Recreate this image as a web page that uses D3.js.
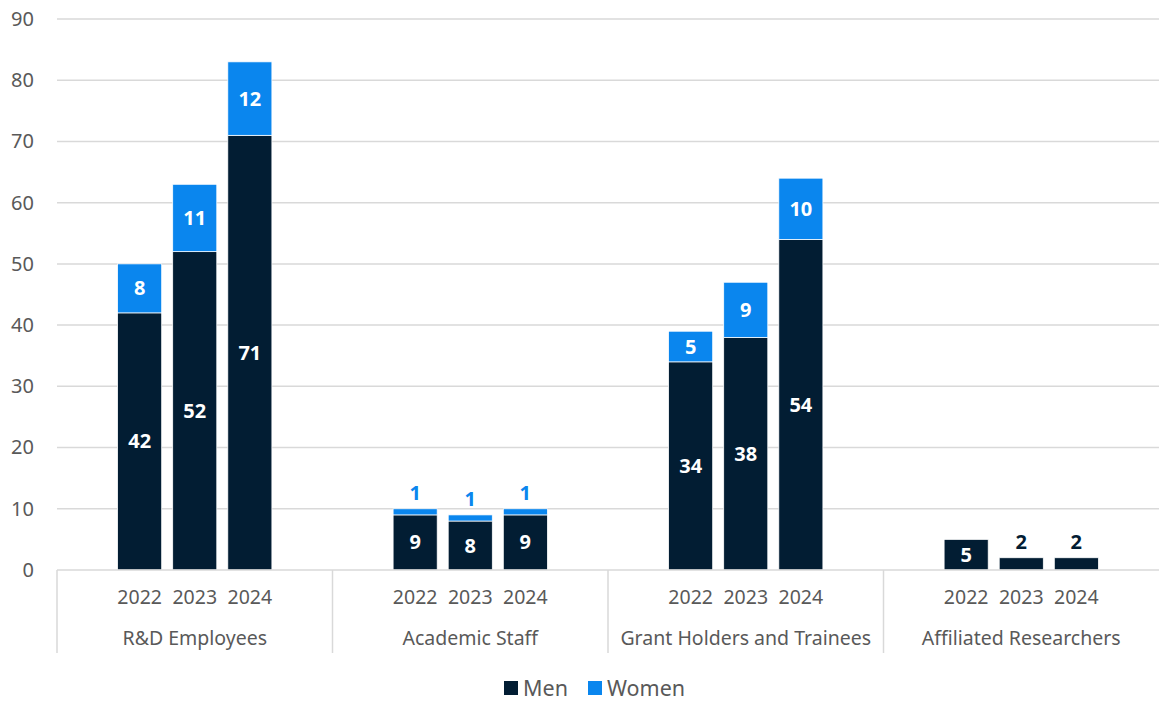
<!DOCTYPE html>
<html>
<head>
<meta charset="utf-8">
<script src="https://cdn.jsdelivr.net/npm/d3@7"></script>
<style>
  html, body { margin: 0; padding: 0; background: #fff; }
  svg { display: block; font-family: "Noto Sans", "Open Sans", sans-serif; }
</style>
</head>
<body>
<svg id="chart" width="1159" height="702"></svg>
<script>
// Staff headcount by group and year, split by gender
const groups = ["R&D Employees", "Academic Staff", "Grant Holders and Trainees", "Affiliated Researchers"];
const years = ["2022", "2023", "2024"];
const men = [
  [42, 52, 71],
  [9, 8, 9],
  [34, 38, 54],
  [5, 2, 2]
];
const women = [
  [8, 11, 12],
  [1, 1, 1],
  [5, 9, 10],
  [0, 0, 0]
];
const yTicks = [0, 10, 20, 30, 40, 50, 60, 70, 80, 90];
const seriesNames = ["Men", "Women"];

const colors = { Men: "#021d33", Women: "#0a86ee" };
const gridColor = "#d9d9d9";
const textColor = "#595959";

const svg = d3.select("#chart");
const margin = { left: 57, right: 0, top: 19, bottom: 132 };
const width = 1159, height = 702;
const plotBottom = height - margin.bottom; // 570

const y = d3.scaleLinear().domain([0, 90]).range([plotBottom, margin.top]);

const x0 = d3.scaleBand().domain(groups).range([margin.left, width - margin.right]).padding(0);
// three year bars sit in the middle of five equal slots per group
const x1 = d3.scaleBand().domain(years).range([0, x0.bandwidth()]).paddingInner(0.2).paddingOuter(1.1);

// gridlines
svg.append("g")
  .selectAll("line")
  .data(yTicks.filter(t => t > 0))
  .join("line")
  .attr("x1", margin.left).attr("x2", width)
  .attr("y1", d => y(d)).attr("y2", d => y(d))
  .attr("stroke", gridColor).attr("stroke-width", 1.5);

// y axis labels
const yAxis = d3.axisLeft(y).tickValues(yTicks).tickSize(0).tickPadding(0);
const yg = svg.append("g").attr("transform", "translate(34,0)").call(yAxis);
yg.select(".domain").remove();
yg.selectAll("text")
  .attr("fill", textColor)
  .style("font-size", "20px")
  .style("font-family", "'Noto Sans', sans-serif");

// stacked data
const rows = [];
groups.forEach((g, gi) => {
  years.forEach((yr, yi) => {
    rows.push({ group: g, year: yr, men: men[gi][yi], women: women[gi][yi] });
  });
});
const stack = d3.stack().keys(["men", "women"]);
const stacked = stack(rows);

const barG = svg.append("g");
stacked.forEach((layer, li) => {
  const name = seriesNames[li];
  barG.append("g")
    .selectAll("rect")
    .data(layer.filter(d => d[1] - d[0] > 0))
    .join("rect")
    .attr("x", d => x0(d.data.group) + x1(d.data.year))
    .attr("width", x1.bandwidth())
    .attr("y", d => y(d[1]))
    .attr("height", d => y(d[0]) - y(d[1]))
    .attr("fill", colors[name])
    .attr("stroke", "#ffffff")
    .attr("stroke-width", 0.75);
});

// baseline
svg.append("line")
  .attr("x1", margin.left).attr("x2", width)
  .attr("y1", plotBottom).attr("y2", plotBottom)
  .attr("stroke", gridColor).attr("stroke-width", 1.5);

// data labels: inside the segment when there is room, otherwise above the bar
const labelG = svg.append("g")
  .style("font-size", "20px")
  .style("font-weight", "bold")
  .attr("text-anchor", "middle");
stacked.forEach((layer, li) => {
  const name = seriesNames[li];
  layer.forEach(d => {
    const v = d[1] - d[0];
    if (v <= 0) return;
    const cx = x0(d.data.group) + x1(d.data.year) + x1.bandwidth() / 2;
    const segH = y(d[0]) - y(d[1]);
    let cy, fill;
    if (segH >= 24) {
      cy = (y(d[0]) + y(d[1])) / 2;
      fill = "#ffffff";
    } else {
      cy = y(d[1]) - 16;
      fill = colors[name];
    }
    labelG.append("text")
      .attr("x", cx).attr("y", cy)
      .attr("dy", "0.35em")
      .attr("fill", fill)
      .text(v);
  });
});

// category axis: year labels, group labels, group dividers
const axG = svg.append("g");
groups.forEach(g => {
  years.forEach(yr => {
    axG.append("text")
      .attr("x", x0(g) + x1(yr) + x1.bandwidth() / 2)
      .attr("y", 597).attr("dy", "0.35em")
      .attr("text-anchor", "middle")
      .attr("fill", textColor)
      .style("font-size", "19.5px")
      .text(yr);
  });
  axG.append("text")
    .attr("x", x0(g) + x0.bandwidth() / 2)
    .attr("y", 638).attr("dy", "0.35em")
    .attr("text-anchor", "middle")
    .attr("fill", textColor)
    .style("font-size", "19.5px")
    .text(g);
  axG.append("line")
    .attr("x1", x0(g)).attr("x2", x0(g))
    .attr("y1", plotBottom).attr("y2", 653)
    .attr("stroke", gridColor).attr("stroke-width", 1.5);
});

// legend
const legend = svg.append("g");
const legendItems = [
  { name: "Men", x: 504 },
  { name: "Women", x: 588 }
];
legendItems.forEach(it => {
  legend.append("rect")
    .attr("x", it.x).attr("y", 681)
    .attr("width", 14).attr("height", 14)
    .attr("fill", colors[it.name]);
  legend.append("text")
    .attr("x", it.x + 19).attr("y", 688).attr("dy", "0.35em")
    .attr("fill", textColor)
    .style("font-size", "21.5px")
    .text(it.name);
});
</script>
</body>
</html>
